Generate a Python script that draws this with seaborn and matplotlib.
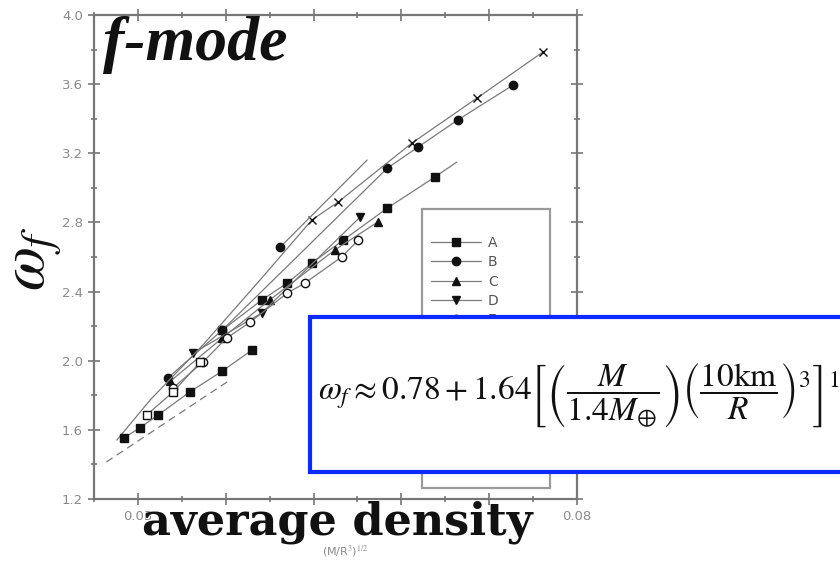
import matplotlib
matplotlib.use("Agg")
import matplotlib.pyplot as plt
import seaborn as sns
from matplotlib.patches import Rectangle
from matplotlib.lines import Line2D
from matplotlib.ticker import MultipleLocator, FixedFormatter

# データ (平均密度 (M/R^3)^1/2 と f-mode 周波数)
a_x = [0.0663, 0.0638, 0.0584, 0.0534, 0.0498, 0.0470, 0.0441, 0.0396]
a_y = [3.149, 3.062, 2.883, 2.698, 2.565, 2.449, 2.351, 2.177]
b_x = [0.0727, 0.0664, 0.0619, 0.0584, 0.0396, 0.0334]
b_y = [3.594, 3.392, 3.236, 3.114, 2.177, 1.900]
c_x = [0.0573, 0.0524, 0.0450, 0.0396, 0.0337]
c_y = [2.802, 2.640, 2.351, 2.131, 1.882]
d_x = [0.0553, 0.0441, 0.0363]
d_y = [2.831, 2.276, 2.044]
e_x = [0.0551, 0.0532, 0.0490, 0.0470, 0.0428, 0.0401, 0.0374, 0.0340]
e_y = [2.698, 2.600, 2.449, 2.391, 2.224, 2.131, 1.992, 1.842]
f_x = [0.0371, 0.0340, 0.0310]
f_y = [1.992, 1.819, 1.686]
g_x = [0.0761, 0.0686, 0.0612, 0.0528, 0.0498, 0.0442, 0.0374, 0.0314, 0.0276]
g_y = [3.785, 3.519, 3.259, 2.918, 2.814, 2.484, 2.091, 1.773, 1.541]
h_x = [0.0462, 0.0561]
h_y = [2.657, 3.161]
i_x = [0.0430, 0.0396, 0.0359, 0.0323, 0.0302, 0.0284]
i_y = [2.062, 1.940, 1.819, 1.686, 1.611, 1.553]
j_x = [0.0264, 0.0403]
j_y = [1.414, 1.882]

legend_labels = ["A", "B", "C", "D", "E", "F", "G", "H", "I"]
x_ticks = [0.03, 0.04, 0.05, 0.06, 0.07, 0.08]
# 中間のラベルは "average density" の下に隠れている
x_tick_labels = ["0.03", "", "", "", "", "0.08"]
y_ticks = [1.2, 1.6, 2.0, 2.4, 2.8, 3.2, 3.6, 4.0]
y_tick_labels = ["1.2", "1.6", "2.0", "2.4", "2.8", "3.2", "3.6", "4.0"]

sns.set_theme(style="ticks")
plt.rcParams['font.family'] = ['DejaVu Sans']
plt.rcParams['mathtext.fontset'] = 'stix'

W, H = 840, 561
def fx(px):
    return px / W
def fy(py):
    return 1 - py / H

fig = plt.figure(figsize=(8.4, 5.61), dpi=100)
ax = fig.add_axes([fx(94), fy(499), 483 / W, 484 / H])

line_c = "#7a7a7a"
mk_c = "#111111"
styles = [
    (a_x, a_y, dict(marker="s", markerfacecolor=mk_c, markevery=list(range(1, len(a_x))))),
    (b_x, b_y, dict(marker="o", markerfacecolor=mk_c)),
    (c_x, c_y, dict(marker="^", markerfacecolor=mk_c)),
    (d_x, d_y, dict(marker="v", markerfacecolor=mk_c)),
    (e_x, e_y, dict(marker="o", markerfacecolor="white")),
    (f_x, f_y, dict(marker="s", markerfacecolor="white")),
    (g_x, g_y, dict(marker="x", markerfacecolor=mk_c, markevery=[0, 1, 2, 3, 4])),
    (h_x, h_y, dict(marker="o", markerfacecolor=mk_c, markevery=[0])),
    (i_x, i_y, dict(marker="s", markerfacecolor=mk_c)),
]
handles = []
for xs, ys, st in styles:
    sns.lineplot(x=xs, y=ys, ax=ax, sort=False, color=line_c, linewidth=0.9,
                 markersize=6, markeredgecolor=mk_c, markeredgewidth=1.0,
                 legend=False, **st)
    handles.append(Line2D([], [], color=line_c, linewidth=0.9, marker=st["marker"],
                          markersize=6, markerfacecolor=st["markerfacecolor"],
                          markeredgecolor=mk_c))
sns.lineplot(x=j_x, y=j_y, ax=ax, sort=False, color=line_c, linewidth=0.9,
             linestyle=(0, (6, 4)), legend=False)

# 軸
ax.set_xlim(0.025, 0.08)
ax.set_ylim(1.2, 4.0)
ax.set_xticks(x_ticks)
ax.set_yticks(y_ticks)
ax.xaxis.set_major_formatter(FixedFormatter(x_tick_labels))
ax.yaxis.set_major_formatter(FixedFormatter(y_tick_labels))
ax.xaxis.set_minor_locator(MultipleLocator(0.005))
ax.yaxis.set_minor_locator(MultipleLocator(0.2))
ax.tick_params(which="both", direction="inout", top=True, right=True,
               colors="#777777", labelcolor="#8a8a8a", labelsize=9.5, width=1.2)
ax.tick_params(which="major", length=8, pad=4)
ax.tick_params(which="minor", length=5)
for sp in ax.spines.values():
    sp.set_color("#777777")
    sp.set_linewidth(1.6)
ax.set_xlabel("")
ax.set_ylabel("")

# 凡例
ax.add_patch(Rectangle((fx(422), fy(488)), 128 / W, 279 / H, transform=fig.transFigure,
                       facecolor="white", edgecolor="#9a9a9a", linewidth=1.6, zorder=4))
leg = ax.legend(handles, legend_labels, loc="upper left", bbox_to_anchor=(fx(431), fy(236)),
                bbox_transform=fig.transFigure, frameon=False, borderpad=0, borderaxespad=0,
                handlelength=3.6, handletextpad=0.5, labelspacing=0.38, fontsize=10)
leg.set_zorder(5)
for t in leg.get_texts():
    t.set_color("#555555")

# 大きな文字
fig.text(fx(103), fy(60), "f-mode", fontsize=46, family="Liberation Serif",
         style="italic", weight="bold", color="#111111", ha="left", va="baseline")
fig.text(fx(337), fy(535), "average density", fontsize=32, family="DejaVu Serif",
         weight="bold", color="#111111", ha="center", va="baseline", zorder=5)
fig.text(fx(345), fy(551), r"(M/R$^3$)$^{1/2}$", fontsize=8, color="#8a8a8a",
         ha="center", va="center")
fig.text(fx(33), fy(259), r"$\omega_f$", fontsize=46, rotation=90, color="#111111",
         ha="center", va="center")

# 近似式
fig.add_artist(Rectangle((fx(310), fy(472)), 560 / W, 155 / H, transform=fig.transFigure,
                         facecolor="white", edgecolor="#0a2aff", linewidth=3, zorder=10))
fig.text(fx(318), fy(395),
         r"$\omega_f \approx 0.78 + 1.64\left[\left(\dfrac{M}{1.4M_{\oplus}}\right)"
         r"\left(\dfrac{10\mathrm{km}}{R}\right)^3\right]^{1/2}$",
         fontsize=24, color="#111111", ha="left", va="center", zorder=11)

plt.savefig("out.png", dpi=100)
